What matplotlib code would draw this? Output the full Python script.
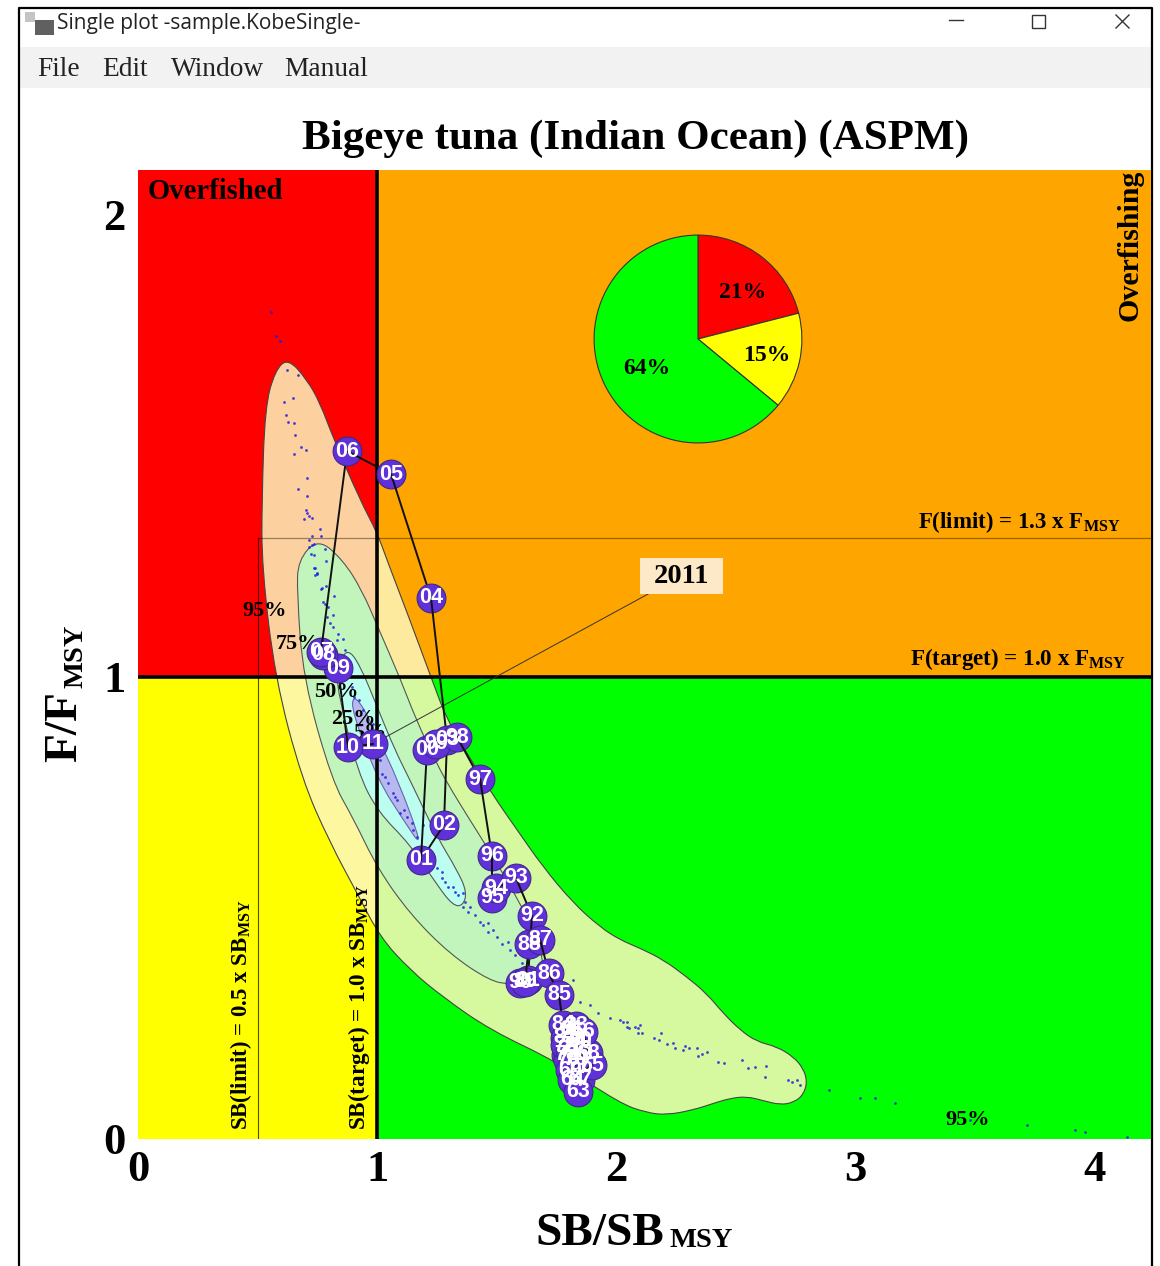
from matplotlib import pyplot as plt
from matplotlib.path import Path
from matplotlib.patches import PathPatch, Rectangle
import numpy as np

plt.rcParams['font.family'] = ['Liberation Serif', 'DejaVu Sans']
plt.rcParams['font.weight'] = 'bold'
plt.rcParams['mathtext.fontset'] = 'custom'
plt.rcParams['mathtext.bf'] = 'Liberation Serif:bold'
plt.rcParams['mathtext.rm'] = 'Liberation Serif:bold'
plt.rcParams['mathtext.default'] = 'bf'

years = ['63', '64', '65', '66', '67', '68', '69', '70', '71', '72', '73', '74', '75', '76',
         '77', '78', '79', '80', '81', '82', '83', '84', '85', '86', '87', '88', '89', '90',
         '91', '92', '93', '94', '95', '96', '97', '98', '99', '00', '01', '02', '03', '04',
         '05', '06', '07', '08', '09', '10', '11']
sb = [1.839, 1.814, 1.898, 1.860, 1.848, 1.881, 1.806, 1.827, 1.806, 1.785, 1.848, 1.827, 1.806, 1.798,
      1.839, 1.789, 1.819, 1.848, 1.814, 1.785, 1.831, 1.777, 1.760, 1.718, 1.681, 1.635, 1.618, 1.597,
      1.630, 1.647, 1.580, 1.497, 1.480, 1.480, 1.430, 1.334, 1.246, 1.208, 1.183, 1.279, 1.292, 1.225,
      1.058, 0.874, 0.765, 0.773, 0.836, 0.878, 0.982]
f = [0.102, 0.128, 0.160, 0.232, 0.128, 0.186, 0.149, 0.171, 0.193, 0.203, 0.193, 0.214, 0.225, 0.171,
     0.154, 0.182, 0.203, 0.214, 0.236, 0.219, 0.245, 0.247, 0.312, 0.359, 0.431, 0.422, 0.340, 0.338,
     0.344, 0.483, 0.565, 0.543, 0.522, 0.613, 0.779, 0.870, 0.855, 0.842, 0.604, 0.680, 0.864, 1.171,
     1.439, 1.489, 1.055, 1.048, 1.019, 0.848, 0.855]

dots_x = [.554, .577, .593, .624, .667, .646, .612, .617, .627, .651, .656, .680, .702, .651, .705, .669, .705,
          .702, .705, .715, .726, .694, .762, .726, .766, .715, .726, .736, .716, .780, .724, .736, .784, .736,
          .747, .741, .786, .763, .819, .740, .747, .768, .782, .775, .796, .789, .817, .803, .817, .838, .859,
          .831, .866, .894, .922, .901, .942, .984, 1.012, 1.019, 1.033, 1.047, 1.068, 1.082, 1.075, 1.110,
          1.096, 1.124, 1.145, 1.151, 1.165, 1.179, 1.193, 1.235, 1.249, 1.270, 1.270, 1.284, 1.297, 1.318,
          1.325, 1.339, 1.360, 1.367, 1.360, 1.388, 1.381, 1.409, 1.430, 1.444, 1.465, 1.465, 1.486, 1.500,
          1.520, 1.548, 1.555, 1.576, 1.604, 1.632, 1.819, 1.848, 1.890, 1.923, 1.973, 2.015, 2.029, 2.046,
          2.043, 2.054, 2.078, 2.092, 2.099, 2.092, 2.106, 2.185, 2.159, 2.179, 2.210, 2.235, 2.245, 2.287,
          2.303, 2.277, 2.336, 2.359, 2.377, 2.342, 2.423, 2.450, 2.524, 2.549, 2.579, 2.624, 2.621, 2.716,
          2.733, 2.756, 2.768, 2.890, 3.018, 3.081, 3.165, 3.478, 3.717, 3.917, 3.959, 4.135]
dots_y = [1.790, 1.739, 1.728, 1.664, 1.654, 1.603, 1.595, 1.568, 1.552, 1.549, 1.524, 1.498, 1.491, 1.482, 1.431,
          1.406, 1.391, 1.361, 1.356, 1.348, 1.345, 1.343, 1.320, 1.306, 1.306, 1.297, 1.286, 1.287, 1.282, 1.278,
          1.266, 1.264, 1.252, 1.237, 1.226, 1.221, 1.196, 1.190, 1.176, 1.235, 1.224, 1.192, 1.159, 1.163, 1.152,
          1.130, 1.134, 1.116, 1.109, 1.094, 1.083, 1.080, 1.058, .979, .950, .957, .928, .899, .820, .791, .784,
          .770, .748, .734, .741, .712, .705, .697, .683, .669, .654, .632, .680, .597, .586, .579, .564, .557,
          .546, .546, .535, .528, .532, .514, .503, .503, .492, .485, .470, .463, .467, .449, .452, .438, .423,
          .427, .409, .398, .382, .380, .344, .297, .290, .273, .262, .258, .253, .253, .243, .240, .243, .240,
          .247, .229, .229, .229, .218, .214, .206, .207, .196, .201, .196, .193, .198, .185, .189, .180, .167,
          .165, .170, .153, .155, .158, .135, .128, .124, .128, .117, .105, .089, .089, .078, .041, .030, .019,
          .015, .004]

c95_x = [.627, .707, .761, .815, .928, 1.0, 1.041, 1.137, 1.229, 1.292, 1.375, 1.484, 1.585, 1.693, 1.819, 1.931,
         2.015, 2.099, 2.196, 2.294, 2.377, 2.447, 2.517, 2.586, 2.670, 2.740, 2.781, 2.798, 2.781, 2.740, 2.684,
         2.614, 2.545, 2.475, 2.405, 2.322, 2.210, 2.126, 2.015, 1.752, 1.472, 1.275, 1.137, 1.012, .916, .803,
         .686, .573, .518, .518, .531, .573]
c95_y = [1.690, 1.643, 1.593, 1.519, 1.383, 1.312, 1.253, 1.123, .994, .907, .835, .744, .669, .589, .511, .459,
         .431, .413, .388, .351, .315, .272, .236, .211, .200, .178, .153, .124, .095, .079, .074, .083, .092, .088,
         .077, .063, .052, .057, .077, .167, .236, .307, .366, .437, .532, .641, .777, .998, 1.238, 1.383, 1.584, 1.663]
c75_x = [.753, .857, .936, 1.003, 1.095, 1.165, 1.242, 1.292, 1.388, 1.459, 1.584, 1.660, 1.701, 1.660, 1.555,
         1.472, 1.304, 1.137, 1.0, .899, .811, .690, .665, .669]
c75_y = [1.300, 1.253, 1.188, 1.108, .998, .905, .820, .771, .690, .632, .524, .442, .377, .335, .335,
         .342, .400, .487, .587, .695, .775, .998, 1.182, 1.253]
c50_x = [.874, .928, 1.0, 1.074, 1.137, 1.250, 1.334, 1.375, 1.359, 1.317, 1.250, 1.137, 1.003, .920, .836, .832]
c50_y = [1.063, 1.026, .935, .842, .777, .654, .582, .535, .505, .505, .550, .638, .708, .792, .965, 1.020]
c25_x = [.899, .949, 1.0, 1.087, 1.195, 1.110, 1.003, .895]
c25_y = [.962, .929, .870, .777, .625, .690, .777, .924]

pie_share = [21, 15, 64]
pie_colors = ['#ff0000', '#ffff00', '#00ff00']
pie_label_x = [.433, .663, -.49]
pie_label_y = [.45, -.155, -.285]
xticks = [0, 1, 2, 3, 4]
yticks = [0, 1, 2]


def blob(xs, ys):
    pts = np.column_stack([xs, ys])
    nxt = np.roll(pts, -1, axis=0)
    mid = (pts + nxt) / 2
    verts = [mid[-1]]
    codes = [Path.MOVETO]
    for p, m in zip(pts, mid):
        verts += [p, m]
        codes += [Path.CURVE3, Path.CURVE3]
    return Path(verts, codes)


W, H = 1160, 1266
fig = plt.figure(figsize=(W / 100, H / 100), dpi=100)

# window frame, in pixels
bg = fig.add_axes([0, 0, 1, 1])
bg.set_xlim(0, W)
bg.set_ylim(H, 0)
bg.axis('off')
bg.add_patch(Rectangle((19, 47), 1133, 41, color='#f2f2f2', lw=0))
bg.plot([19, 19, 1152, 1152], [H, 8, 8, H], color='black', lw=1.6)
bg.add_patch(Rectangle((25, 12), 10, 10, color='#c4c4c4', lw=0))
bg.add_patch(Rectangle((35, 20), 19, 15, color='#606060', lw=0))
bg.text(57, 24, 'Single plot -sample.KobeSingle-', family='Open Sans', weight='normal', fontsize=15,
        color='#222222', va='center')
for label, x in zip(['File', 'Edit', 'Window', 'Manual'], [37, 102, 171, 284]):
    bg.text(x, 69, label, weight='normal', fontsize=19.7, color='#222222', va='center')
bg.plot([949, 963], [20, 20], color='#333333', lw=1)
bg.add_patch(Rectangle((1032, 15), 13, 13, fill=False, ec='#333333', lw=1))
bg.plot([1116, 1129], [15, 28], color='#333333', lw=1)
bg.plot([1116, 1129], [28, 15], color='#333333', lw=1)
bg.text(635, 139, 'Bigeye tuna (Indian Ocean) (ASPM)', fontsize=31, ha='center', va='center')
bg.text(535, 1245, 'SB/SB', fontsize=34, va='baseline')
bg.text(670, 1247, 'MSY', fontsize=20.5, va='baseline')
bg.text(65, 727, 'F/F', fontsize=34, rotation=90, ha='center', va='center')
bg.text(76, 656, 'MSY', fontsize=20.5, rotation=90, ha='center', va='center')

ax = fig.add_axes([138 / W, 1 - 1139 / H, (1151 - 138) / W, (1139 - 170) / H])
xmax = (1151 - 138) / 239.2
ymax = (1139 - 170) / 462
ax.set_xlim(0, xmax)
ax.set_ylim(0, ymax)
for s in ax.spines.values():
    s.set_visible(False)
ax.set_xticks(xticks)
ax.set_yticks(yticks)
ax.tick_params(length=0, labelsize=32, pad=8)
ax.tick_params(axis='y', pad=9)

ax.add_patch(Rectangle((0, 1), 1, ymax - 1, color='#ff0000', lw=0, zorder=1))
ax.add_patch(Rectangle((1, 1), xmax - 1, ymax - 1, color='#ffa500', lw=0, zorder=1))
ax.add_patch(Rectangle((0, 0), 1, 1, color='#ffff00', lw=0, zorder=1))
ax.add_patch(Rectangle((1, 0), xmax - 1, 1, color='#00ff00', lw=0, zorder=1))

ax.add_patch(PathPatch(blob(c95_x, c95_y), fc=(253 / 255, 247 / 255, 188 / 255, .85), ec='#444444', lw=.8, zorder=2))
ax.add_patch(PathPatch(blob(c75_x, c75_y), fc='#c2f5bb', ec='#555555', lw=.8, zorder=2.1))
ax.add_patch(PathPatch(blob(c50_x, c50_y), fc='#bcfff0', ec='#555555', lw=.8, zorder=2.2))
ax.add_patch(PathPatch(blob(c25_x, c25_y), fc='#b8b8f0', ec='#6666aa', lw=.8, zorder=2.3))

ax.plot([.5, .5], [0, 1.3], color='black', alpha=.7, lw=.8, zorder=3)
ax.plot([.5, xmax], [1.3, 1.3], color='black', alpha=.4, lw=.9, zorder=3)
ax.axvline(1, color='black', lw=2.6, zorder=3)
ax.axhline(1, color='black', lw=2.6, zorder=3)
ax.scatter(dots_x, dots_y, s=4, color='#2020e0', alpha=.85, lw=0, zorder=4)

ax.text(.04, 2.05, 'Overfished', fontsize=20.7, va='center', zorder=5)
ax.text(4.148, 1.935, 'Overfishing', fontsize=21.5, rotation=90, ha='center', va='center', zorder=5)
ax.text(4.105, 1.335, r'F(limit) = 1.3 x F$_{\mathbf{MSY}}$', fontsize=16.5, ha='right', va='center', zorder=5)
ax.text(4.13, 1.038, r'F(target) = 1.0 x F$_{\mathbf{MSY}}$', fontsize=16.6, ha='right', va='center', zorder=5)
ax.text(.43, .02, r'SB(limit) = 0.5 x SB$_{\mathbf{MSY}}$', fontsize=16.5, rotation=90, ha='center', va='bottom', zorder=5)
ax.text(.925, .02, r'SB(target) = 1.0 x SB$_{\mathbf{MSY}}$', fontsize=16.7, rotation=90, ha='center', va='bottom', zorder=5)
for label, x, y in [('95%', .53, 1.143), ('75%', .67, 1.071), ('50%', .83, .967), ('25%', .90, .909),
                    ('5%', .97, .879), ('95%', 3.47, .041)]:
    ax.text(x, y, label, fontsize=16, ha='center', va='center', zorder=5)

# newest year first, each line sits on its own marker and under the next one
for i in range(len(years) - 1, -1, -1):
    z = 6 + (len(years) - i) * .01
    ax.scatter(sb[i], f[i], s=430, color='#6030d8', ec='#40288c', lw=.8, zorder=z)
    if i > 0:
        ax.plot(sb[i - 1:i + 1], f[i - 1:i + 1], color='#111111', lw=1.4, zorder=z + .005)
for label, x, y in zip(years, sb, f):
    ax.text(x, y, label, family='Liberation Sans', weight='bold', fontsize=15.5, color='white',
            ha='center', va='center', zorder=8)

ax.plot([.982, 2.272], [.855, 1.219], color='#333333', lw=.7, zorder=5.5)
ax.add_patch(Rectangle((2.099, 1.180), .347, .078, fc='#fde9c8', ec='none', zorder=9))
ax.text(2.272, 1.217, '2011', fontsize=20.5, ha='center', va='center', zorder=10)

pie_ax = fig.add_axes([(698 - 106) / W, 1 - (339 + 106) / H, 212 / W, 212 / H])
wedges, _, pcts = pie_ax.pie(pie_share, colors=pie_colors, startangle=90, counterclock=False,
                             autopct='%d%%', radius=1, wedgeprops=dict(ec='#333333', lw=.8),
                             textprops=dict(fontsize=17, weight='bold'))
for t, x, y in zip(pcts, pie_label_x, pie_label_y):
    t.set_position((x, y))
pie_ax.set_xlim(-1.02, 1.02)
pie_ax.set_ylim(-1.02, 1.02)

fig.savefig('out.png', dpi=100)
